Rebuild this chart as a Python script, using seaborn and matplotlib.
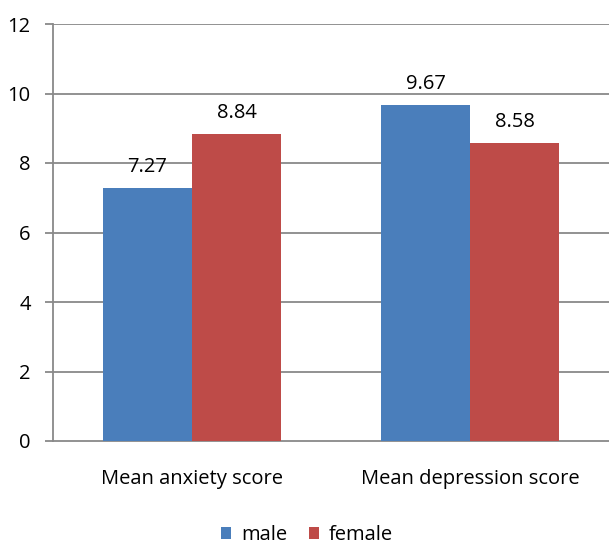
import matplotlib
matplotlib.use("Agg")
import matplotlib.pyplot as plt
import seaborn as sns
import pandas as pd

categories = ["Mean anxiety score", "Mean depression score"]
groups = ["male", "female"]
male_values = [7.27, 9.67]
female_values = [8.84, 8.58]
y_ticks = [0, 2, 4, 6, 8, 10, 12]

df = pd.DataFrame({
    "category": categories * 2,
    "group": [groups[0]] * 2 + [groups[1]] * 2,
    "score": male_values + female_values,
})

sns.set_theme(style="white")
plt.rcParams["font.family"] = ["Open Sans", "DejaVu Sans"]
plt.rcParams["text.color"] = "black"
plt.rcParams["xtick.color"] = "black"
plt.rcParams["ytick.color"] = "black"

fig = plt.figure(figsize=(6.09, 5.44), dpi=100)
ax = fig.add_axes([53 / 609, 1 - 441 / 544, 1 - 53 / 609, (441 - 24) / 544])

palette = {"male": "#4A7EBB", "female": "#BE4B48"}
sns.barplot(data=df, x="category", y="score", hue="group", hue_order=groups,
            order=categories, palette=palette, width=0.64, saturation=1,
            linewidth=0, edgecolor="none", ax=ax, legend=True, zorder=3)

grid_color = "#898989"
ax.set_ylim(0, 12)
ax.set_xlim(-0.5, 1.5)
ax.set_yticks(y_ticks)
ax.set_yticklabels([str(t) for t in y_ticks], fontsize=14.5)
for t in y_ticks[1:]:
    ax.axhline(t, color=grid_color, lw=1.3, zorder=1)

ax.set_xticks([0, 1])
ax.set_xticklabels(categories, fontsize=14.5)
ax.set_xticks([-0.5, 0.5, 1.5], minor=True)
ax.tick_params(axis="x", which="major", length=0, pad=20)
ax.tick_params(axis="x", which="minor", length=6, width=1.3, color=grid_color, direction="out")
ax.tick_params(axis="y", length=6, width=1.3, color=grid_color, direction="out", left=True, pad=10)
ax.set_xlabel("")
ax.set_ylabel("")

for side in ["top", "right"]:
    ax.spines[side].set_visible(False)
for side in ["left", "bottom"]:
    ax.spines[side].set_color(grid_color)
    ax.spines[side].set_linewidth(1.3)

for container in ax.containers:
    ax.bar_label(container, labels=[f"{v:.2f}" for v in container.datavalues],
                 padding=8, fontsize=14.5)

handles, labels = ax.get_legend_handles_labels()
ax.legend(handles, labels, loc="center", bbox_to_anchor=(307 / 609, 1 - 535 / 544),
          bbox_transform=fig.transFigure, ncol=2, frameon=False, fontsize=14.5,
          handlelength=0.5, handleheight=0.5, handletextpad=0.5, columnspacing=1.1)

fig.savefig("out.png", dpi=100)
